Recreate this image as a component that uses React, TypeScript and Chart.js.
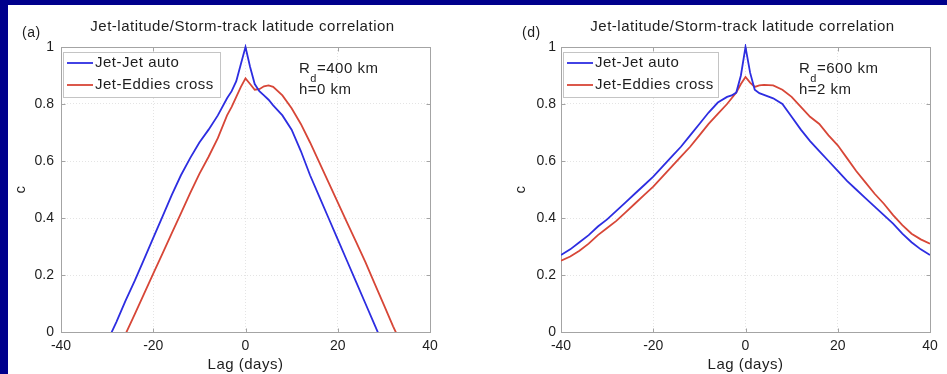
import React, { useEffect, useRef } from 'react';
import { Chart, registerables } from 'chart.js';

Chart.register(...registerables);

// ---------- text ----------
const TITLE = 'Jet-latitude/Storm-track latitude correlation';
const SERIES_LABELS = ['Jet-Jet auto', 'Jet-Eddies cross'];
const X_TITLE = 'Lag (days)';
const Y_TITLE = 'c';
const X_TICKS = [-40, -20, 0, 20, 40];
const Y_TICKS = [0, 0.2, 0.4, 0.6, 0.8, 1];

// ---------- panel (a): Rd = 400 km, h = 0 km ----------
const LAGS_A_AUTO = [-30, -28, -26, -24, -22, -20, -18, -16, -14, -12, -10, -8, -6, -4, -3, -2, -1, 0, 1, 2, 3, 4, 5, 6, 8, 10, 12, 14, 16, 18, 20, 22, 24, 26, 28, 30];
const VALS_A_AUTO = [-0.035, 0.035, 0.11, 0.18, 0.255, 0.33, 0.405, 0.48, 0.55, 0.61, 0.665, 0.71, 0.76, 0.82, 0.845, 0.88, 0.94, 1.0, 0.93, 0.87, 0.845, 0.83, 0.815, 0.795, 0.76, 0.71, 0.635, 0.55, 0.475, 0.4, 0.325, 0.25, 0.175, 0.1, 0.025, -0.05];
const LAGS_A_CROSS = [-28, -26, -24, -22, -20, -18, -16, -14, -12, -10, -8, -6, -4, -3, -2, -1, 0, 1, 2, 3, 4, 5, 6, 8, 10, 12, 14, 16, 18, 20, 22, 24, 26, 28, 30, 32, 34];
const VALS_A_CROSS = [-0.08, -0.007, 0.063, 0.134, 0.205, 0.275, 0.346, 0.416, 0.487, 0.555, 0.615, 0.68, 0.76, 0.79, 0.825, 0.86, 0.89, 0.87, 0.85, 0.852, 0.862, 0.865, 0.86, 0.83, 0.785, 0.73, 0.665, 0.595, 0.525, 0.455, 0.385, 0.315, 0.245, 0.17, 0.095, 0.02, -0.05];

// ---------- panel (d): Rd = 600 km, h = 2 km ----------
const LAGS_D = [-40, -38, -36, -34, -32, -30, -28, -26, -24, -22, -20, -18, -16, -14, -12, -10, -8, -6, -4, -3, -2, -1, 0, 1, 2, 3, 4, 6, 8, 10, 12, 14, 16, 18, 20, 22, 24, 26, 28, 30, 32, 34, 36, 38, 40];
const VALS_D_AUTO = [0.27, 0.29, 0.315, 0.34, 0.37, 0.395, 0.425, 0.455, 0.485, 0.515, 0.545, 0.58, 0.615, 0.65, 0.69, 0.73, 0.77, 0.805, 0.825, 0.83, 0.84, 0.9, 1.0, 0.91, 0.85, 0.838, 0.832, 0.82, 0.8, 0.755, 0.71, 0.67, 0.635, 0.6, 0.565, 0.53, 0.5, 0.47, 0.44, 0.41, 0.38, 0.345, 0.315, 0.29, 0.27];
const VALS_D_CROSS = [0.25, 0.265, 0.285, 0.31, 0.34, 0.365, 0.39, 0.42, 0.45, 0.48, 0.51, 0.545, 0.58, 0.615, 0.65, 0.69, 0.73, 0.765, 0.8, 0.82, 0.84, 0.87, 0.895, 0.875, 0.86, 0.865, 0.867, 0.865, 0.85, 0.825, 0.79, 0.755, 0.73, 0.69, 0.655, 0.61, 0.565, 0.525, 0.485, 0.45, 0.41, 0.375, 0.345, 0.325, 0.31];

const BLUE = 'rgb(45,45,225)';
const RED = 'rgb(215,70,55)';
const TEXT = '#1e1e1e';
const FONT = "'Liberation Sans', Arial, Helvetica, sans-serif";
const H = 369;

type PanelCfg = {
  letter: string;
  rd: string;
  h: string;
  x: number;
  w: number;
  left: number;
  right: number;
  legendW: number;
  yPad: number;
  auto: { x: number; y: number }[];
  cross: { x: number; y: number }[];
};

const pts = (lags: number[], vals: number[]) => lags.map((x, i) => ({ x, y: vals[i] }));

const PANELS: PanelCfg[] = [
  { letter: '(a)', rd: '400', h: '0', x: 8, w: 465, left: 53, right: 422, legendW: 157, yPad: 7, auto: pts(LAGS_A_AUTO, VALS_A_AUTO), cross: pts(LAGS_A_CROSS, VALS_A_CROSS) },
  { letter: '(d)', rd: '600', h: '2', x: 473, w: 474, left: 88, right: 457, legendW: 155, yPad: 5, auto: pts(LAGS_D, VALS_D_AUTO), cross: pts(LAGS_D, VALS_D_CROSS) },
];

function Panel({ cfg }: { cfg: PanelCfg }) {
  const ref = useRef<HTMLCanvasElement>(null);
  useEffect(() => {
    const canvas = ref.current!;
    const deco = {
      id: 'deco',
      beforeDatasetsDraw(chart: any) {
        const { ctx, chartArea: ca } = chart;
        ctx.save();
        ctx.strokeStyle = '#a4a4a4';
        ctx.lineWidth = 1;
        const l = Math.round(ca.left) + 0.5, t = Math.round(ca.top) + 0.5;
        const r = Math.round(ca.right) + 0.5, b = Math.round(ca.bottom) + 0.5;
        ctx.strokeRect(l, t, r - l, b - t);
        const xs = chart.scales.x, ys = chart.scales.y;
        ctx.beginPath();
        X_TICKS.forEach((v) => {
          const px = Math.round(xs.getPixelForValue(v)) + 0.5;
          ctx.moveTo(px, b); ctx.lineTo(px, b - 4);
          ctx.moveTo(px, t); ctx.lineTo(px, t + 4);
        });
        Y_TICKS.forEach((v) => {
          const py = Math.round(ys.getPixelForValue(v)) + 0.5;
          ctx.moveTo(l, py); ctx.lineTo(l + 4, py);
          ctx.moveTo(r, py); ctx.lineTo(r - 4, py);
        });
        ctx.stroke();
        ctx.restore();
      },
      afterDraw(chart: any) {
        const { ctx, chartArea: ca } = chart;
        const cx = (ca.left + ca.right) / 2;
        const cy = (ca.top + ca.bottom) / 2;
        ctx.save();
        ctx.fillStyle = TEXT;
        ctx.textBaseline = 'middle';
        (ctx as any).letterSpacing = '0.5px';
        ctx.font = `15px ${FONT}`;
        ctx.textAlign = 'center';
        ctx.fillText(TITLE, cx - 3, 22);
        ctx.fillText(X_TITLE, cx, 360);
        ctx.save();
        ctx.translate(ca.left - 40, cy);
        ctx.rotate(-Math.PI / 2);
        ctx.fillText(Y_TITLE, 0, 0);
        ctx.restore();
        ctx.textAlign = 'left';
        ctx.font = `14px ${FONT}`;
        ctx.fillText(cfg.letter, ca.left - 39, 28);
        // legend
        const lx = Math.round(ca.left) + 2.5, ly = Math.round(ca.top) + 5.5;
        ctx.fillStyle = '#ffffff';
        ctx.fillRect(lx, ly, cfg.legendW, 45);
        ctx.strokeStyle = '#c4c4c4';
        ctx.lineWidth = 1;
        ctx.strokeRect(lx, ly, cfg.legendW, 45);
        const colors = [BLUE, RED];
        chart.data.datasets.forEach((ds: any, i: number) => {
          const yy = ca.top + 16 + i * 22;
          ctx.strokeStyle = colors[i];
          ctx.lineWidth = 1.8;
          ctx.beginPath();
          ctx.moveTo(ca.left + 6, yy);
          ctx.lineTo(ca.left + 32, yy);
          ctx.stroke();
          ctx.fillStyle = TEXT;
          ctx.font = `15px ${FONT}`;
          ctx.fillText(ds.label, ca.left + 34, yy);
        });
        // annotation
        const ax = ca.left + 238;
        const ay = ca.top + 22;
        ctx.font = `15px ${FONT}`;
        ctx.fillText('R', ax, ay);
        const rw = ctx.measureText('R').width;
        ctx.font = `11px ${FONT}`;
        ctx.fillText('d', ax + rw, ay + 10);
        const dw = ctx.measureText('d').width;
        ctx.font = `15px ${FONT}`;
        ctx.fillText(`=${cfg.rd} km`, ax + rw + dw, ay);
        ctx.fillText(`h=${cfg.h} km`, ax, ca.top + 43);
        ctx.restore();
      },
    };

    const clip = { left: 0, right: 0, top: 3, bottom: 0 };
    const chart = new Chart(canvas, {
      type: 'line',
      data: {
        datasets: [
          { label: SERIES_LABELS[0], data: cfg.auto, borderColor: BLUE, borderWidth: 1.8, pointRadius: 0, tension: 0, fill: false, clip },
          { label: SERIES_LABELS[1], data: cfg.cross, borderColor: RED, borderWidth: 1.8, pointRadius: 0, tension: 0, fill: false, clip },
        ],
      },
      options: {
        responsive: false,
        animation: false,
        devicePixelRatio: 1,
        events: [],
        layout: { padding: { left: 0, top: 42, right: cfg.w - cfg.right, bottom: 0 } },
        plugins: { legend: { display: false }, title: { display: false }, tooltip: { enabled: false } },
        scales: {
          x: {
            type: 'linear',
            min: -40,
            max: 40,
            afterBuildTicks: (s: any) => { s.ticks = X_TICKS.map((v) => ({ value: v })); },
            afterFit: (s: any) => { s.height = H - 327; },
            grid: { color: '#e4e4e4', drawTicks: false, lineWidth: 1 },
            border: { display: false, dash: [1, 2] },
            ticks: { padding: 6, color: TEXT, font: { family: FONT, size: 14 }, maxRotation: 0, callback: (v: any) => String(v) },
          },
          y: {
            type: 'linear',
            min: 0,
            max: 1,
            afterBuildTicks: (s: any) => { s.ticks = Y_TICKS.map((v) => ({ value: v })); },
            afterFit: (s: any) => { s.width = cfg.left; },
            grid: { color: '#e4e4e4', drawTicks: false, lineWidth: 1 },
            border: { display: false, dash: [1, 2] },
            ticks: { padding: cfg.yPad, color: TEXT, font: { family: FONT, size: 14 }, callback: (v: any) => String(Number(v)) },
          },
        },
      },
      plugins: [deco],
    } as any);
    return () => chart.destroy();
  }, [cfg]);
  return (
    <canvas
      ref={ref}
      width={cfg.w}
      height={H}
      style={{ position: 'absolute', left: cfg.x, top: 5, width: cfg.w, height: H, display: 'block' }}
    />
  );
}

export default function App() {
  return (
    <div style={{ position: 'fixed', left: 0, top: 0, width: 947, height: 374, background: '#00008c', overflow: 'hidden' }}>
      <div style={{ position: 'absolute', left: 8, top: 5, width: 939, height: 369, background: '#ffffff' }} />
      {PANELS.map((p) => (
        <Panel key={p.letter} cfg={p} />
      ))}
    </div>
  );
}
